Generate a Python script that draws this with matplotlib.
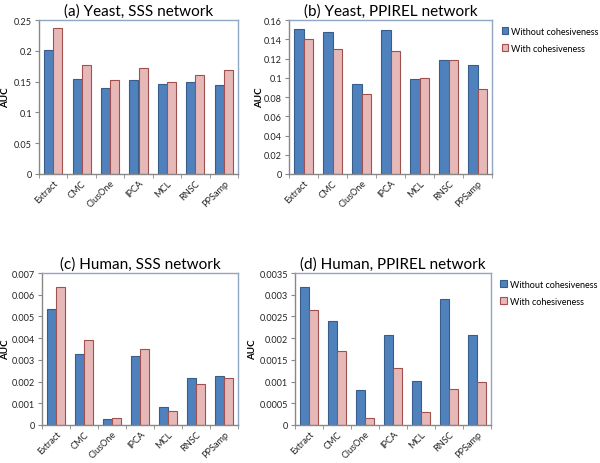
import matplotlib
matplotlib.use("Agg")
import matplotlib.pyplot as plt
import matplotlib.transforms as mtransforms
import numpy as np
from matplotlib.patches import Patch

plt.rcParams['font.family'] = ['Lato', 'DejaVu Sans']

methods = ["Extract", "CMC", "ClusOne", "IPCA", "MCL", "RNSC", "PPSamp"]
series_names = ["Without cohesiveness", "With cohesiveness"]

yeast_sss_without = [0.202, 0.154, 0.140, 0.152, 0.1455, 0.150, 0.145]
yeast_sss_with = [0.2365, 0.177, 0.152, 0.172, 0.150, 0.160, 0.169]

yeast_ppirel_without = [0.1511, 0.1474, 0.0931, 0.150, 0.0989, 0.1184, 0.1129]
yeast_ppirel_with = [0.1405, 0.130, 0.0836, 0.1276, 0.100, 0.1184, 0.0887]

human_sss_without = [0.00533, 0.00326, 0.000255, 0.00317, 0.000826, 0.00218, 0.00224]
human_sss_with = [0.00635, 0.00392, 0.000345, 0.0035, 0.00063, 0.00191, 0.00216]

human_ppirel_without = [0.00317, 0.0024, 0.00081, 0.00208, 0.00101, 0.0029, 0.00207]
human_ppirel_with = [0.00264, 0.0017, 0.00015, 0.00132, 0.00029, 0.00082, 0.00098]

titles = ["(a) Yeast, SSS network", "(b) Yeast, PPIREL network",
          "(c) Human, SSS network", "(d) Human, PPIREL network"]
yticks_a = [0, 0.05, 0.1, 0.15, 0.2, 0.25]
ylabels_a = ["0", "0.05", "0.1", "0.15", "0.2", "0.25"]
yticks_b = [0, 0.02, 0.04, 0.06, 0.08, 0.1, 0.12, 0.14, 0.16]
ylabels_b = ["0", "0.02", "0.04", "0.06", "0.08", "0.1", "0.12", "0.14", "0.16"]
yticks_c = [0, 0.001, 0.002, 0.003, 0.004, 0.005, 0.006, 0.007]
ylabels_c = ["0", "0.001", "0.002", "0.003", "0.004", "0.005", "0.006", "0.007"]
yticks_d = [0, 0.0005, 0.001, 0.0015, 0.002, 0.0025, 0.003, 0.0035]
ylabels_d = ["0", "0.0005", "0.001", "0.0015", "0.002", "0.0025", "0.003", "0.0035"]

blue_fill, blue_edge = "#4F81BD", "#385D8A"
pink_fill, pink_edge = "#E6B9B8", "#A0504D"
frame_col = "#8FA6C4"

W, H = 600, 464
fig = plt.figure(figsize=(6, 4.64), dpi=100)

def rect(l, t, r, b):
    return [l / W, 1 - b / H, (r - l) / W, (b - t) / H]

panels = [
    (rect(39, 21, 238, 175), yeast_sss_without, yeast_sss_with, yticks_a, ylabels_a, 0.25, 0, 6),
    (rect(289, 21, 492, 175), yeast_ppirel_without, yeast_ppirel_with, yticks_b, ylabels_b, 0.16, 1, 260),
    (rect(42, 274, 238, 426), human_sss_without, human_sss_with, yticks_c, ylabels_c, 0.007, 2, 6),
    (rect(295, 274, 491, 426), human_ppirel_without, human_ppirel_with, yticks_d, ylabels_d, 0.0035, 3, 253),
]

x = np.arange(len(methods))
bw = 0.32
offset = mtransforms.ScaledTranslation(5 / 100, 0, fig.dpi_scale_trans)
for pos, wo, wi, yt, yl, ymax, i, labx in panels:
    ax = fig.add_axes(pos)
    ax.bar(x - bw / 2, wo, bw, color=blue_fill, edgecolor=blue_edge, linewidth=0.8)
    ax.bar(x + bw / 2, wi, bw, color=pink_fill, edgecolor=pink_edge, linewidth=0.8)
    ax.set_xlim(-0.5, len(methods) - 0.5)
    ax.set_ylim(0, ymax)
    ax.set_yticks(yt)
    ax.set_yticklabels(yl)
    ax.set_xticks(x)
    ax.set_xticklabels(methods, rotation=45, ha='right', rotation_mode='anchor')
    for lab in ax.get_xticklabels():
        lab.set_transform(lab.get_transform() + offset)
    ax.set_xticks(np.arange(len(methods) + 1) - 0.5, minor=True)
    ax.tick_params(axis='x', which='major', length=0, labelsize=6.6, pad=3, colors='#222222')
    ax.tick_params(axis='x', which='minor', length=3, color='#888888', direction='out')
    ax.tick_params(axis='y', length=3, color='#888888', labelsize=6.6, colors='#222222', pad=2)
    for s in ax.spines.values():
        s.set_color(frame_col)
        s.set_linewidth(1.0)
    ax.spines['left'].set_color('#888888')
    ax.spines['bottom'].set_color('#888888')
    ax.set_ylabel("AUC", fontsize=7, fontweight='bold', va='center')
    bbox = ax.get_position()
    ax.yaxis.set_label_coords((labx / W - bbox.x0) / bbox.width, 0.5)
    ax.set_title(titles[i], fontsize=11, pad=4)
    if i in (1, 3):
        handles = [Patch(facecolor=blue_fill, edgecolor=blue_edge, linewidth=0.8),
                   Patch(facecolor=pink_fill, edgecolor=pink_edge, linewidth=0.8)]
        ax.legend(handles, series_names, loc='upper left', bbox_to_anchor=(1.03, 0.98),
                  frameon=False, fontsize=6.5, handlelength=0.7, handleheight=0.7,
                  handletextpad=0.3, labelspacing=0.9, borderaxespad=0)

fig.savefig("out.png", dpi=100)
